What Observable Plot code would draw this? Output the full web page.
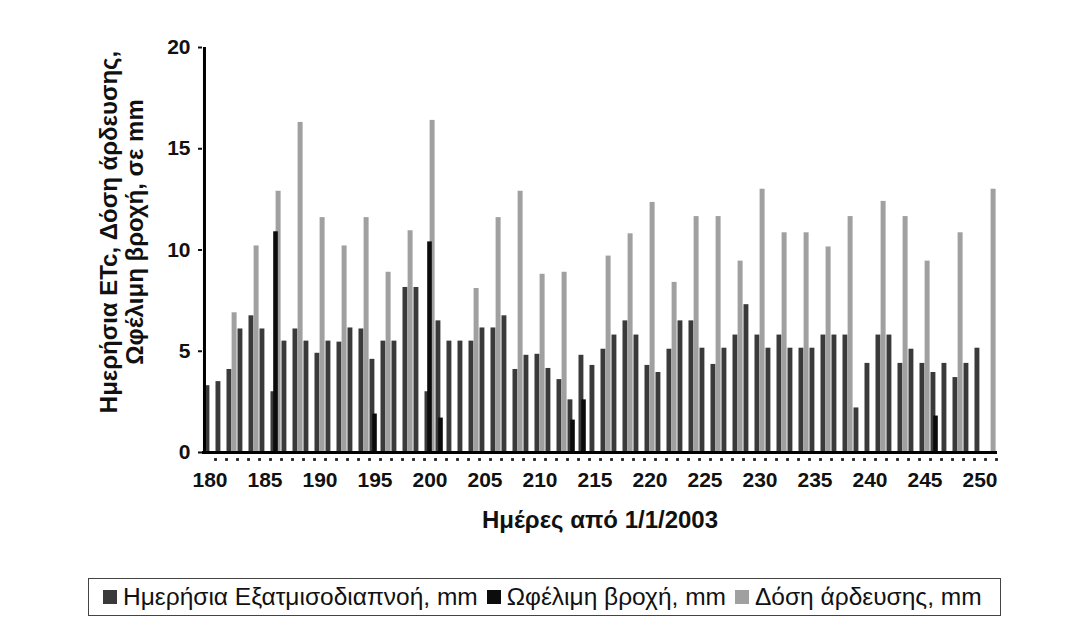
<!DOCTYPE html>
<html><head><meta charset="utf-8">
<script src="https://cdn.jsdelivr.net/npm/d3@7"></script>
<script src="https://cdn.jsdelivr.net/npm/@observablehq/plot@0.6"></script>
<style>
body{margin:0;background:#fff;font-family:"Liberation Sans",Arial,sans-serif;}
#wrap{position:relative;width:1068px;height:628px;background:#fff;}
#legend{position:absolute;left:88px;top:578px;width:913px;height:38px;border:1px solid #444;box-sizing:border-box;display:flex;align-items:center;padding-left:14px;font-size:24.5px;color:#111;white-space:nowrap;}
.sw{display:inline-block;width:14px;height:14px;margin-right:6px;}
.item{margin-right:9px;display:flex;align-items:center;}
</style></head>
<body><div id="wrap"><div id="chart"></div><div id="legend"></div></div>
<script>
// Categories: days since 1/1/2003
const days = d3.range(180, 252);
const labelDays = [180,185,190,195,200,205,210,215,220,225,230,235,240,245,250];
const yTicks = [0,5,10,15,20];

// Series (mm), one value per day 180..251
const etc = [3.3,3.5,4.1,6.1,6.75,6.1,3.0,5.5,6.1,5.5,
             4.9,5.5,5.45,6.15,6.1,4.6,5.5,5.5,8.15,8.15,
             3.0,6.5,5.5,5.5,5.5,6.15,6.15,6.75,4.1,4.8,
             4.85,4.15,3.6,2.6,4.8,4.3,5.1,5.8,6.5,5.8,
             4.3,3.95,5.1,6.5,6.5,5.15,4.35,5.15,5.8,7.3,
             5.8,5.15,5.8,5.15,5.15,5.15,5.8,5.8,5.8,2.2,
             4.4,5.8,5.8,4.4,5.1,4.4,3.95,4.4,3.7,4.4,
             5.15,0];
const rain = [0,0,0,0,0,0,10.9,0,0,0,
              0,0,0,0,0,1.9,0,0,0,0,
              10.4,1.7,0,0,0,0,0,0,0,0,
              0,0,0,1.6,2.6,0,0,0,0,0,
              0,0,0,0,0,0,0,0,0,0,
              0,0,0,0,0,0,0,0,0,0,
              0,0,0,0,0,0,1.8,0,0,0,
              0,0];
const irr = [0,0,6.9,0,10.2,0,12.9,0,16.3,0,
             11.6,0,10.2,0,11.6,0,8.9,0,10.95,0,
             16.4,0,0,0,8.1,0,11.6,0,12.9,0,
             8.8,0,8.9,0,0,0,9.7,0,10.8,0,
             12.35,0,8.4,0,11.65,0,11.65,0,9.45,0,
             13.0,0,10.85,0,10.85,0,10.15,0,11.65,0,
             0,12.4,0,11.65,0,9.45,0,0,10.85,0,
             0,13.0];

const seriesNames = ["Ημερήσια Εξατμισοδιαπνοή, mm","Ωφέλιμη βροχή, mm","Δόση άρδευσης, mm"];
const colors = ["#3a3a3a","#0c0c0c","#a0a0a0"];
const xTitle = "Ημέρες από 1/1/2003";
const yTitle = "Ημερήσια ETc, Δόση άρδευσης,\nΩφέλιμη βροχή, σε mm";

const table = days.map((d,i) => ({day:d, etc:etc[i], rain:rain[i], irr:irr[i]}));

const W = 1068, H = 560, mL = 202, mR = 71;
const bw = (W - mL - mR) / days.length;
const tickFont = {fontSize: 21, fontWeight: "bold"};
const titleFont = {fontSize: 24, fontWeight: "bold"};

const chart = Plot.plot({
  width: W, height: H,
  marginLeft: mL, marginRight: mR, marginTop: 47, marginBottom: 108,
  style: {fontFamily: "'Liberation Sans', Arial, sans-serif", background: "white", color: "#111", overflow: "visible"},
  x: {type: "band", domain: days, padding: 0},
  y: {domain: [0, 20]},
  marks: [
    Plot.barY(table.filter(d => d.etc > 0), {x: "day", y: "etc", fill: colors[0], insetLeft: 0.5, insetRight: 5.6}),
    Plot.barY(table.filter(d => d.irr > 0), {x: "day", y: "irr", fill: colors[2], insetLeft: 5.6, insetRight: 0.4}),
    Plot.barY(table.filter(d => d.rain > 0), {x: "day", y: "rain", fill: colors[1], insetLeft: 3.2, insetRight: 3.2}),
    Plot.ruleY([0], {stroke: "#000", strokeWidth: 3}),
    Plot.ruleX([days[0]], {dx: -bw/2, stroke: "#000", strokeWidth: 3}),
    Plot.dot(days, {x: d => d, frameAnchor: "bottom", dx: bw/2, dy: 7, symbol: "square", r: 1.6, fill: "#222", stroke: null}),
    Plot.axisX({ticks: labelDays, tickSize: 0, tickPadding: 20, label: null, ...tickFont}),
    Plot.axisY({ticks: yTicks, tickSize: 4, tickPadding: 8, label: null, strokeWidth: 2, ...tickFont}),
    Plot.text([xTitle], {text: d => d, frameAnchor: "bottom", dy: 75, ...titleFont}),
    Plot.text([yTitle], {text: d => d, frameAnchor: "left", textAnchor: "middle", dx: -81, dy: -18, rotate: -90, lineHeight: 1.08, ...titleFont})
  ]
});
document.getElementById("chart").appendChild(chart);

const legend = document.getElementById("legend");
seriesNames.forEach((n, i) => {
  const it = document.createElement("span");
  it.className = "item";
  const sw = document.createElement("span");
  sw.className = "sw";
  sw.style.background = colors[i];
  it.appendChild(sw);
  it.appendChild(document.createTextNode(n));
  legend.appendChild(it);
});
</script></body></html>
